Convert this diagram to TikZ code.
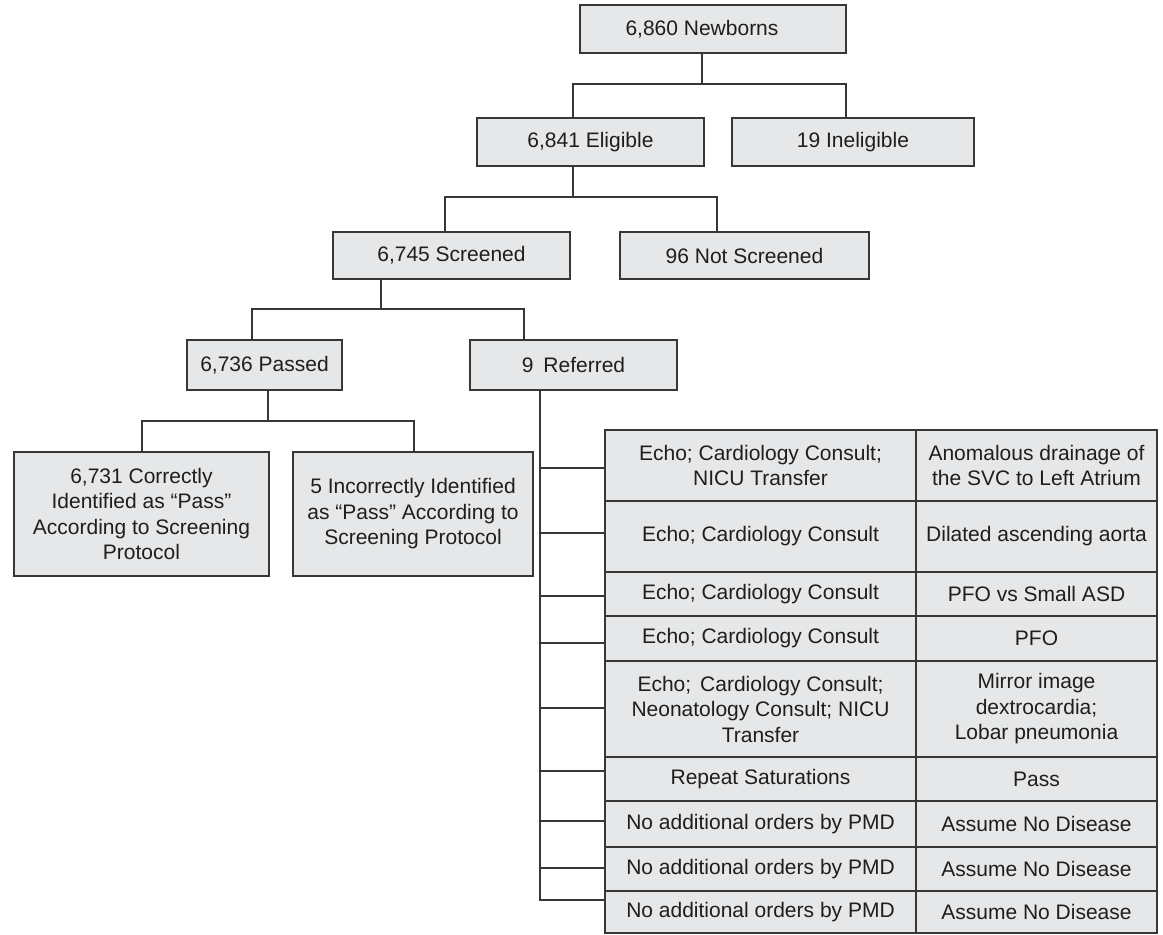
\documentclass[tikz,border=0pt]{standalone}
\usepackage{fontspec}
\setmainfont{Liberation Sans}
\definecolor{bx}{RGB}{230,231,232}
\definecolor{lc}{RGB}{55,55,55}
\definecolor{tc}{RGB}{30,30,30}
\tikzset{
  box/.style={draw=lc, fill=bx, line width=1.4pt, inner sep=0pt, align=center, text=tc,
    font=\fontsize{21pt}{25.5pt}\selectfont},
  conn/.style={draw=lc, line width=1.4pt},
  lcell/.style={box, minimum width=311pt},
  rcell/.style={box, minimum width=241pt},
}
\begin{document}
\begin{tikzpicture}[x=1pt,y=-1pt]
\useasboundingbox (0,0) rectangle (1163,935);
% boxes
\node[box, minimum width=266pt, minimum height=48pt] (newb) at (713,29) {6,860 Newborns\hspace*{22pt}};
\node[box, minimum width=227pt, minimum height=48pt] (elig) at (590.5,142) {6,841 Eligible};
\node[box, minimum width=242pt, minimum height=48pt] (inel) at (853,142) {19 Ineligible};
\node[box, minimum width=237pt, minimum height=47pt] (scr) at (451.5,255.5) {6,745 Screened};
\node[box, minimum width=249pt, minimum height=47pt] (nscr) at (744.5,255.5) {96 Not Screened};
\node[box, minimum width=155pt, minimum height=50pt] (pass) at (264.5,365) {6,736 Passed};
\node[box, minimum width=207pt, minimum height=50pt] (ref) at (573.5,365) {9\hspace{10pt}Referred};
\node[box, minimum width=255pt, minimum height=124pt] (corr) at (141.5,514) {6,731 Correctly\\Identified as “Pass”\\According to Screening\\Protocol};
\node[box, minimum width=240pt, minimum height=124pt] (inc) at (413,514) {5 Incorrectly Identified\\as “Pass” According to\\Screening Protocol};
% table
\node[lcell, minimum height=71pt] (l1) at (760.5,465.5) {Echo; Cardiology Consult;\\NICU Transfer};
\node[rcell, minimum height=71pt] (r1) at (1036.5,465.5) {Anomalous drainage of\\the SVC to Left Atrium};
\node[lcell, minimum height=71pt] (l2) at (760.5,536.5) {Echo; Cardiology Consult};
\node[rcell, minimum height=71pt] (r2) at (1036.5,536.5) {Dilated ascending aorta};
\node[lcell, minimum height=44pt] (l3) at (760.5,594) {Echo; Cardiology Consult};
\node[rcell, minimum height=44pt] (r3) at (1036.5,594) {PFO vs Small ASD};
\node[lcell, minimum height=45pt] (l4) at (760.5,638.5) {Echo; Cardiology Consult};
\node[rcell, minimum height=45pt] (r4) at (1036.5,638.5) {PFO};
\node[lcell, minimum height=96pt] (l5) at (760.5,709) {Echo;\hspace{9pt}Cardiology Consult;\\Neonatology Consult; NICU\\Transfer};
\node[rcell, minimum height=96pt] (r5) at (1036.5,709) {Mirror image\\dextrocardia;\\Lobar pneumonia};
\node[lcell, minimum height=44pt] (l6) at (760.5,779) {Repeat Saturations};
\node[rcell, minimum height=44pt] (r6) at (1036.5,779) {Pass};
\node[lcell, minimum height=46pt] (l7) at (760.5,824) {No additional orders by PMD};
\node[rcell, minimum height=46pt] (r7) at (1036.5,824) {Assume No Disease};
\node[lcell, minimum height=44pt] (l8) at (760.5,869) {No additional orders by PMD};
\node[rcell, minimum height=44pt] (r8) at (1036.5,869) {Assume No Disease};
\node[lcell, minimum height=42pt] (l9) at (760.5,912) {No additional orders by PMD};
\node[rcell, minimum height=42pt] (r9) at (1036.5,912) {Assume No Disease};
% junction coordinates
\coordinate (a0) at (702,84);  \coordinate (aL) at (573,84);  \coordinate (aR) at (846,84);
\coordinate (b0) at (573,197); \coordinate (bL) at (445,197); \coordinate (bR) at (717,197);
\coordinate (c0) at (381,309); \coordinate (cL) at (252,309); \coordinate (cR) at (524,309);
\coordinate (d0) at (268,421); \coordinate (dL) at (142,421); \coordinate (dR) at (414,421);
\coordinate (v1) at (540,468); \coordinate (v2) at (540,533); \coordinate (v3) at (540,596);
\coordinate (v4) at (540,643); \coordinate (v5) at (540,708); \coordinate (v6) at (540,771);
\coordinate (v7) at (540,821); \coordinate (v8) at (540,868); \coordinate (v9) at (540,900);
% connectors
\draw[conn] (newb.south -| a0) -- (a0);
\draw[conn] (elig.north -| aL) |- (aR) -- (inel.north -| aR);
\draw[conn] (elig.south -| b0) -- (b0);
\draw[conn] (scr.north -| bL) |- (bR) -- (nscr.north -| bR);
\draw[conn] (scr.south -| c0) -- (c0);
\draw[conn] (pass.north -| cL) |- (cR) -- (ref.north -| cR);
\draw[conn] (pass.south -| d0) -- (d0);
\draw[conn] (corr.north -| dL) |- (dR) -- (inc.north -| dR);
\draw[conn] (ref.south -| v9) -- (v9) -- (l9.west |- v9);
\foreach \i in {1,...,8} {\draw[conn] (v\i) -- (l\i.west |- v\i);}
\end{tikzpicture}
\end{document}
